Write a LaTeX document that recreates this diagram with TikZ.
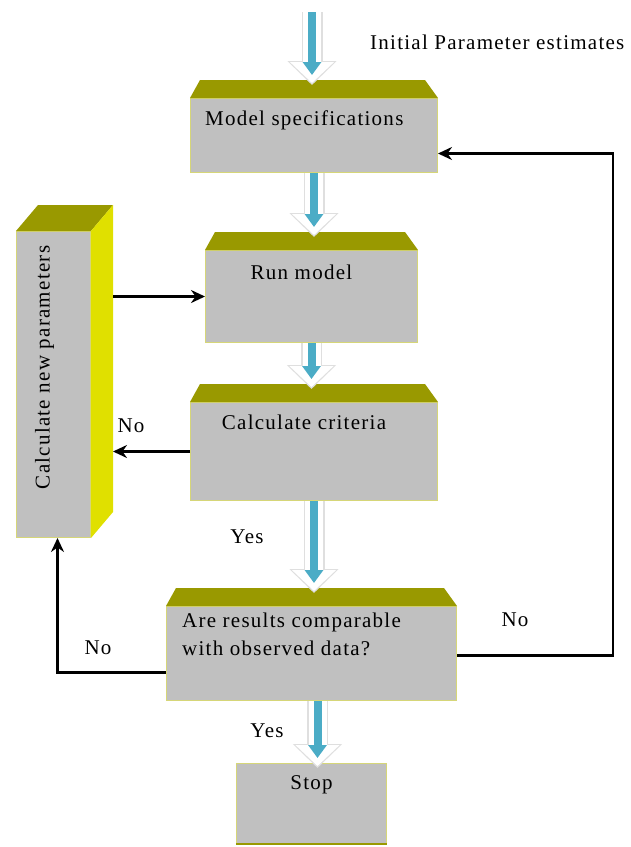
\documentclass[tikz,border=0pt]{standalone}
\usepackage{fontspec}
\setmainfont{Liberation Serif}[LetterSpace=6]
\usepackage{tikz}
\usetikzlibrary{arrows.meta,positioning,calc}

\definecolor{boxgray}{RGB}{192,192,192}
\definecolor{topolive}{RGB}{153,153,0}
\definecolor{sideyellow}{RGB}{224,224,0}
\definecolor{edgeyellow}{RGB}{214,214,120}
\definecolor{flowblue}{RGB}{75,172,198}

\begin{document}
\begin{tikzpicture}[
    x=1pt, y=-1pt,
    box/.style={rectangle, draw=edgeyellow, fill=boxgray, line width=1pt, anchor=north west, inner sep=0pt},
    topface/.style={fill=topolive},
    flow/.style={draw=flowblue, line width=8pt, shorten >=5pt, -{Triangle[width=18pt,length=13pt]},
        preaction={draw=gray!25, line width=21pt, shorten >=-5pt, -{Triangle[width=48pt,length=24pt]}},
        preaction={draw=white, line width=18pt, shorten >=-3pt, -{Triangle[width=43pt,length=21pt]}}},
    link/.style={line width=2.4pt, -{Stealth[length=14pt,width=13pt]}},
    txt/.style={font=\fontsize{21}{28}\selectfont, inner sep=0pt}
]
    \useasboundingbox (0,0) rectangle (631,847);

    % boxes
    \node[box, minimum width=247pt, minimum height=74pt] (spec) at (190,98) {};
    \node[box, minimum width=212pt, minimum height=92pt] (run) at (205,250) {};
    \node[box, minimum width=247pt, minimum height=98pt] (crit) at (190,402) {};
    \node[box, minimum width=290pt, minimum height=94pt] (comp) at (166,606) {};
    \node[box, minimum width=150pt, minimum height=80pt] (stop) at (236,763) {};
    \node[box, minimum width=74pt, minimum height=306pt] (newpar) at (16,231) {};

    % top faces
    \foreach \b in {spec,run,crit,comp}
        \fill[topface] (\b.north west) -- ([shift={(10,-18)}]\b.north west)
            -- ([shift={(-13,-18)}]\b.north east) -- (\b.north east) -- cycle;
    \draw[topolive, line width=2pt] (stop.south west) -- (stop.south east);

    % side box
    \fill[topface] (newpar.north west) -- ([shift={(22,-26)}]newpar.north west)
        -- ([shift={(22,-26)}]newpar.north east) -- (newpar.north east) -- cycle;
    \fill[sideyellow] (newpar.north east) -- ([shift={(22,-26)}]newpar.north east)
        -- ([shift={(22,-26)}]newpar.south east) -- (newpar.south east) -- cycle;
    \coordinate (newback) at ([xshift=22pt]newpar.east);

    % texts
    \node[txt, anchor=west] (initT) at (370,42) {Initial Parameter estimates};
    \node[txt, anchor=west] (specT) at ([shift={(15,22)}]spec.north west) {Model specifications};
    \node[txt] (runT) at ([shift={(-10,22)}]run.north) {Run model};
    \node[txt] (critT) at ([shift={(-10,20)}]crit.north) {Calculate criteria};
    \node[txt, align=left, anchor=north west] (compT) at ([shift={(16,7)}]comp.north west)
        {Are results comparable\\with observed data?};
    \node[txt] (stopT) at ([shift={(0,22)}]stop.north) {Stop};
    \node[txt, rotate=90] (newparT) at ([shift={(-9,-17)}]newpar.center) {Calculate new parameters};

    % flow arrows
    \coordinate (start) at (312,12);
    \draw[flow] (start) -- ($(start |- spec.north)+(0,-18)$);
    \draw[flow] (spec.south) -- ($(spec.south |- run.north)+(0,-18)$);
    \draw[flow] (run.south) -- ($(run.south |- crit.north)+(0,-18)$);
    \draw[flow] (crit.south) -- ($(crit.south |- comp.north)+(0,-18)$);
    \draw[flow] ([xshift=6pt]comp.south) -- ([xshift=6pt]comp.south |- stop.north);

    % links
    \draw[link] (newback |- run.west) -- (run.west);
    \draw[link] (crit.west) -- (newback |- crit.west);
    \draw[link] ([yshift=-19pt]comp.west) -| ([xshift=4pt]newpar.south);
    \draw[link] ([yshift=-2pt]comp.east) -- ++(156,0) |- ([yshift=-18pt]spec.east);

    % labels
    \node[txt] (noA) at (131,426) {No};
    \node[txt] (noB) at (98,648) {No};
    \node[txt] (noC) at (515,620) {No};
    \node[txt] (yesA) at (247,537) {Yes};
    \node[txt] (yesB) at (267,731) {Yes};
\end{tikzpicture}
\end{document}
